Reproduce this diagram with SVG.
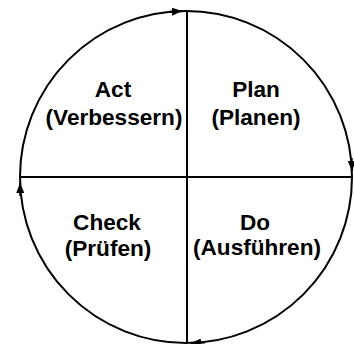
<svg xmlns="http://www.w3.org/2000/svg" width="354" height="344" viewBox="0 0 354 344">
<style>
.ln{fill:none;stroke:#000;stroke-width:2}
.t{font-family:"Liberation Sans",Arial,sans-serif;font-weight:bold;font-size:22.6px;fill:#000;text-anchor:middle}
</style>
<defs>
<marker id="ah" markerUnits="userSpaceOnUse" markerWidth="10" markerHeight="8" refX="10" refY="4" orient="auto">
<path d="M0,0 L10,4 L0,8 z" fill="#000"/>
</marker>
</defs>
<rect width="354" height="344" fill="#fff"/>
<g id="connectors">
<circle class="ln" cx="186" cy="177" r="166"/>
<line class="ln" x1="187" y1="11" x2="187" y2="343"/>
<line class="ln" x1="20" y1="177" x2="352" y2="177"/>
<path class="ln" d="M168,12 L182,11.1" marker-end="url(#ah)"/>
<path class="ln" d="M351.6,158 L352,171" marker-end="url(#ah)"/>
<path class="ln" d="M205,342.4 L191,343" marker-end="url(#ah)"/>
<path class="ln" d="M20.3,196 L20,183" marker-end="url(#ah)"/>
</g>
<g id="act"><text class="t" x="113" y="97">Act</text><text class="t" x="114" y="124.5">(Verbessern)</text></g>
<g id="plan"><text class="t" x="256" y="97">Plan</text><text class="t" x="256" y="124.5">(Planen)</text></g>
<g id="check"><text class="t" x="107" y="230">Check</text><text class="t" x="108" y="256">(Prüfen)</text></g>
<g id="do"><text class="t" x="255" y="230">Do</text><text class="t" x="257" y="255">(Ausführen)</text></g>
</svg>
